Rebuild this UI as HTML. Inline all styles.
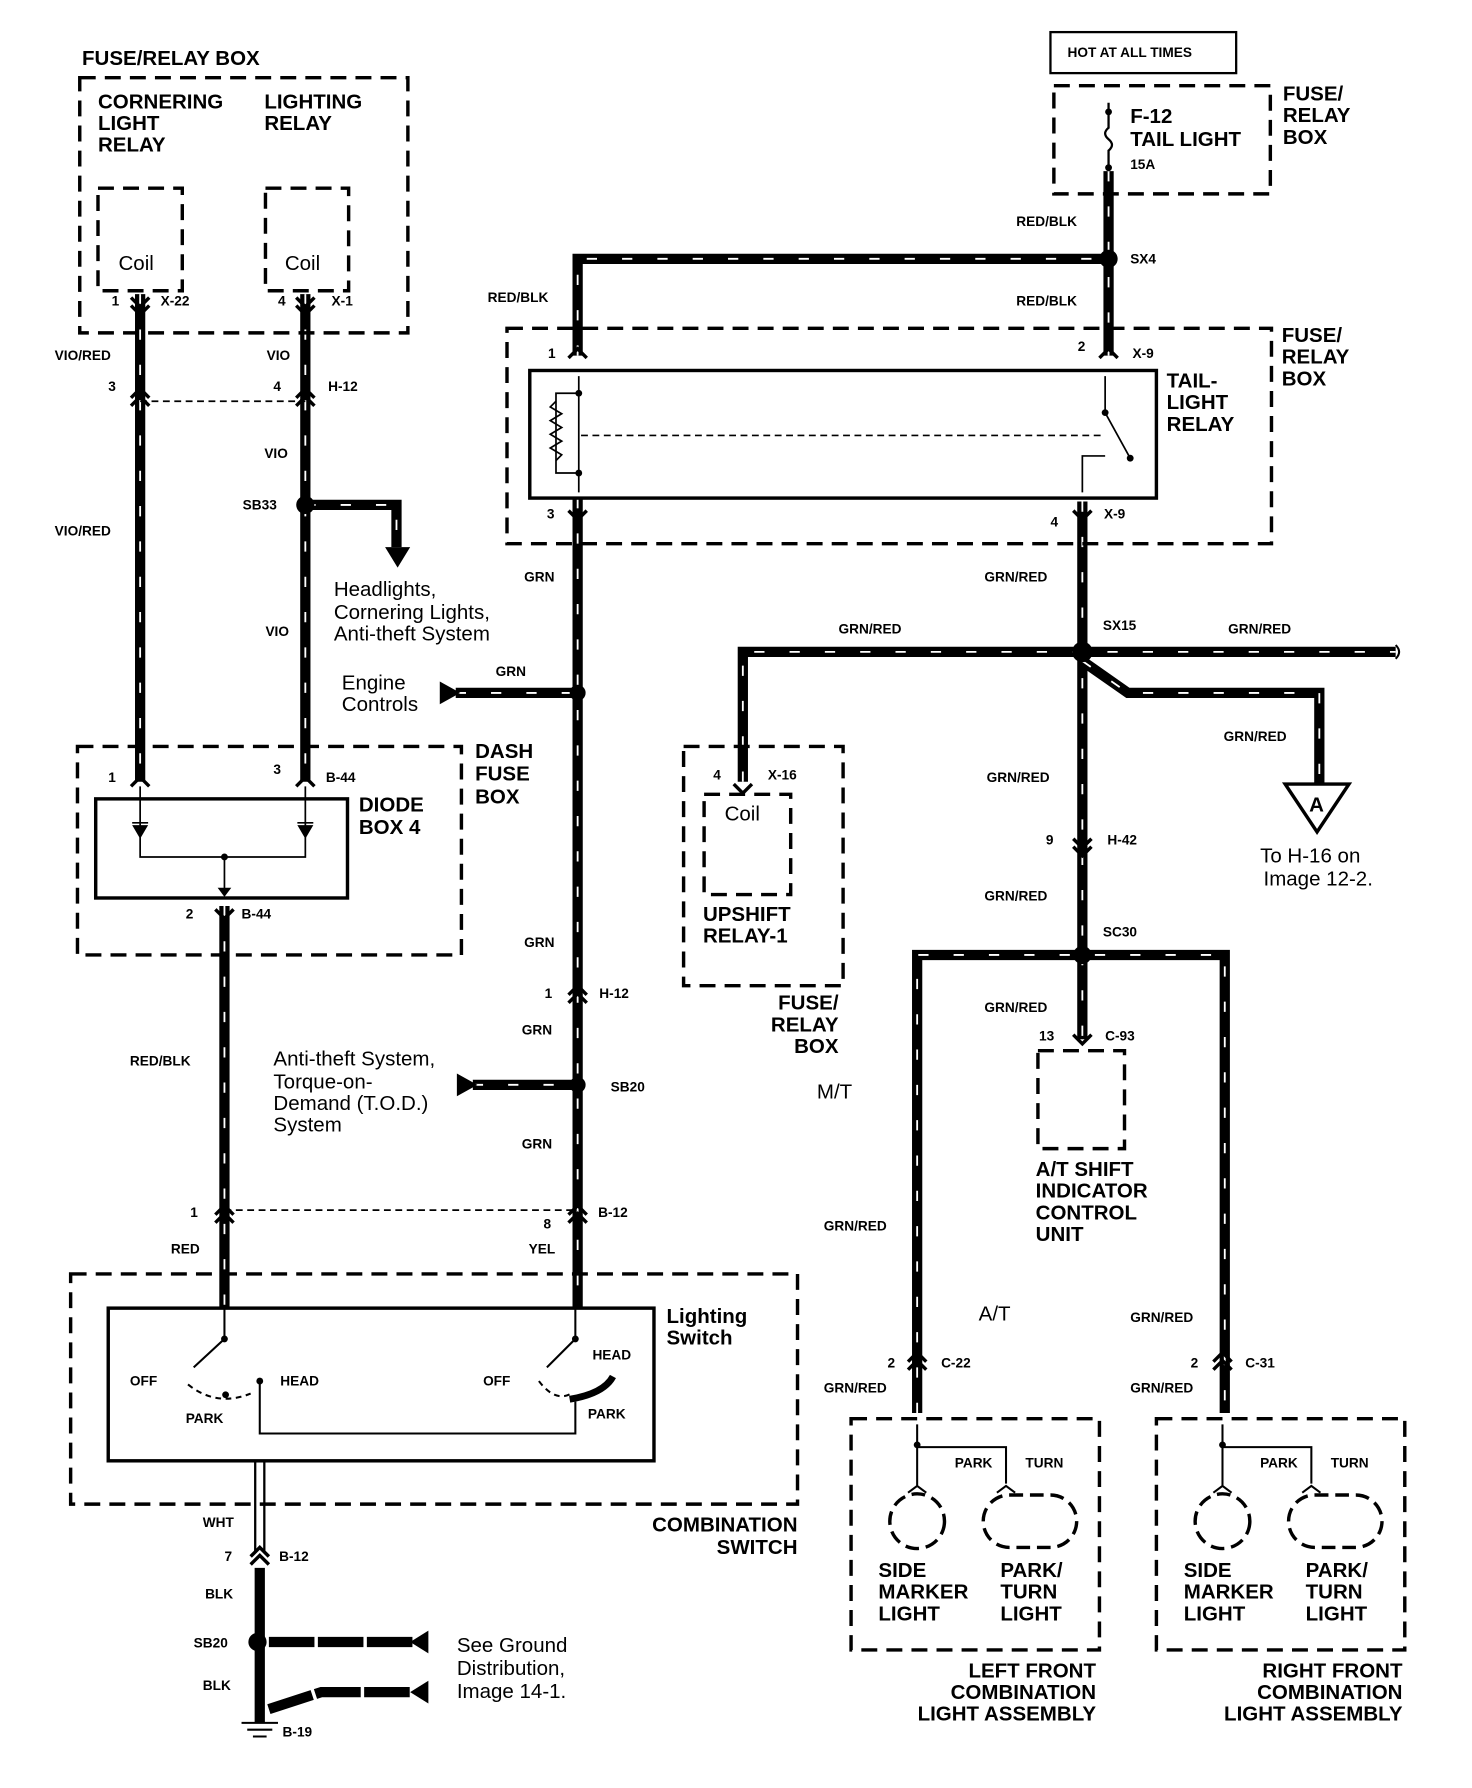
<!DOCTYPE html>
<html><head><meta charset="utf-8"><style>
html,body{margin:0;padding:0;background:#fff}
svg{display:block}
text{font-family:"Liberation Sans",Arial,sans-serif;fill:#000}
.t{font-size:18px;font-weight:bold}
.s{font-size:12px;font-weight:bold}
.n{font-size:18px}
.m{font-size:14px}
</style></head><body>
<svg width="1472" height="1788" viewBox="0 0 1292 1569" xmlns="http://www.w3.org/2000/svg">
<defs>
<g id="W" fill="none">
<path d="M123 258V686"/>
<path d="M268 258V686"/>
<path d="M268 443H348V480"/>
<path d="M197 795V1148"/>
<path d="M507 437V1148"/>
<path d="M507 312V227H973"/>
<path d="M973 150V312"/>
<path d="M950 440V838"/>
<path d="M652 686V572H1225"/>
<path d="M950 580L990 608H1158V688"/>
<path d="M805 1240V838H1075V1240"/>
<path d="M950 838V912"/>
<path d="M400 608H507"/>
<path d="M415 952H507"/>
</g>
</defs>
<use href="#W" stroke="#000" stroke-width="9"/>
<use href="#W" stroke="#fff" stroke-width="1.6" stroke-dasharray="9 22"/>
<path d="M236 1441H362M236 1500L282 1485H362" fill="none" stroke="#000" stroke-width="9" stroke-dasharray="40 3"/>

<g fill="none" stroke="#000" stroke-width="3" stroke-dasharray="14 8">
<rect x="70" y="68" width="288" height="224"/>
<rect x="86" y="165" width="74" height="90"/>
<rect x="233" y="165" width="73" height="90"/>
<rect x="68" y="655" width="337" height="183"/>
<rect x="445" y="288" width="671" height="189"/>
<rect x="925" y="75" width="190" height="95"/>
<rect x="600" y="655" width="140" height="210"/>
<rect x="618" y="697" width="76" height="88"/>
<rect x="911" y="922" width="76" height="86"/>
<rect x="62" y="1118" width="638" height="202"/>
<rect x="747" y="1245" width="218" height="203"/>
<rect x="1015" y="1245" width="218" height="203"/>
</g>
<g fill="none" stroke="#000" stroke-width="3">
<rect x="922" y="28" width="163" height="36" stroke-width="2"/>
<rect x="84" y="701" width="221" height="87"/>
<rect x="465" y="325" width="550" height="112"/>
<rect x="95" y="1148" width="479" height="134"/>
</g>
<g stroke="#000" stroke-width="1.5" stroke-dasharray="6 4" fill="none">
<path d="M123 352H268"/><path d="M197 1062H505"/><path d="M510 382H970"/>
</g>
<!-- connectors -->
<g fill="none" stroke="#000" stroke-width="3">
<path d="M115 261l8 8l8-8M115 268l8 8l8-8"/><path d="M260 261l8 8l8-8M260 268l8 8l8-8"/>
<path d="M115 349l8-8l8 8M115 356l8-8l8 8"/><path d="M260 349l8-8l8 8M260 356l8-8l8 8"/>
<path d="M115 690l8-8l8 8"/><path d="M260 690l8-8l8 8"/>
<path d="M189 798l8 8l8-8"/>
<path d="M189 1066l8-8l8 8M189 1073l8-8l8 8"/><path d="M499 1066l8-8l8 8M499 1073l8-8l8 8"/>
<path d="M499 873l8-8l8 8M499 880l8-8l8 8"/>
<path d="M220 1366l8-8l8 8M220 1373l8-8l8 8"/>
<path d="M499 314l8-8l8 8"/><path d="M965 314l8-8l8 8"/>
<path d="M499 448l8 8l8-8"/><path d="M942 448l8 8l8-8"/>
<path d="M644 688l8 8l8-8"/>
<path d="M942 736l8 8l8-8M942 743l8 8l8-8"/>
<path d="M942 908l8 8l8-8"/>
<path d="M797 1195l8-8l8 8M797 1202l8-8l8 8"/><path d="M1065 1195l8-8l8 8M1065 1202l8-8l8 8"/>
</g>
<!-- dots -->
<g fill="#000">
<circle cx="268" cy="443" r="8"/><circle cx="507" cy="608" r="7"/><circle cx="507" cy="952" r="7"/>
<circle cx="973" cy="227" r="8"/><circle cx="950" cy="572" r="9"/><circle cx="950" cy="838" r="8"/>
<circle cx="226" cy="1441" r="8"/>
<path d="M338 480h22l-11 18z"/>
<path d="M386 598l18 10l-18 10z"/><path d="M401 942l18 10l-18 10z"/>
<path d="M360 1441l16-10v20z"/><path d="M360 1485l16-10v20z"/>
<circle cx="973" cy="98" r="3"/><circle cx="973" cy="147" r="3"/>
</g>
<!-- triangle A -->
<path d="M1128 688H1184L1156 730Z" fill="#fff" stroke="#000" stroke-width="3"/>
<text x="1149" y="712" class="t" font-size="16">A</text>
<!-- fuse -->
<path d="M973 90V112q-6 5 0 10q6 5 0 10V150" fill="none" stroke="#000" stroke-width="2"/>
<!-- diode box internals -->
<g fill="none" stroke="#000" stroke-width="1.5">
<path d="M123 690V752H268V690M197 752V785"/>
<path d="M116 722h14M261 722h14"/>
</g>
<g fill="#000"><path d="M116 724l7 12l7-12zM261 724l7 12l7-12z"/><circle cx="197" cy="752" r="3"/><path d="M191 779l6 8l6-8z"/></g>
<!-- relay internals -->
<g fill="none" stroke="#000" stroke-width="1.5">
<path d="M508 330V432M508 345H488V415H508"/>
<path d="M488 352l-5 5l10 6l-10 6l10 6l-10 6l10 6l-10 6l10 6l-5 5"/>
<path d="M970 330V362L992 402M950 432V400H970" />
</g>
<circle cx="508" cy="345" r="3"/><circle cx="508" cy="415" r="3"/><circle cx="970" cy="362" r="3"/><circle cx="992" cy="402" r="3"/>
<!-- lighting switch internals -->
<g fill="none" stroke="#000" stroke-width="1.8">
<path d="M197 1148V1175L170 1200"/>
<path d="M505 1148V1175L480 1200"/>
<path d="M228 1212V1258H505V1230"/>
<path d="M165 1215q25 20 55 8" stroke-dasharray="5 4"/>
<path d="M473 1212q15 20 30 10" stroke-dasharray="5 4"/>
<path d="M500 1228q30-5 38-20" stroke-width="6"/>
<path d="M224 1282V1362M232 1282V1362" stroke-width="2"/>
<path d="M228 1376V1512" stroke-width="9"/>
<path d="M212 1512h32M217 1518h22M222 1524h12"/>
<path d="M1225 566q6 6 0 12"/>
</g>
<circle cx="197" cy="1175" r="3"/><circle cx="505" cy="1175" r="3"/><circle cx="228" cy="1212" r="3"/><circle cx="198" cy="1224" r="3"/>
<!-- light assembly internals -->
<g fill="none" stroke="#000" stroke-width="1.8">
<path d="M805 1250V1305M805 1270H883V1302M797 1310l8-6l8 6M875 1310l8-6l8 6"/>
<circle cx="805" cy="1335" r="24" stroke-width="3" stroke-dasharray="12 6"/>
<rect x="863" y="1312" width="82" height="46" rx="23" stroke-width="3" stroke-dasharray="12 6"/>
<path d="M1073 1250V1305M1073 1270H1151V1302M1065 1310l8-6l8 6M1143 1310l8-6l8 6"/>
<circle cx="1073" cy="1335" r="24" stroke-width="3" stroke-dasharray="12 6"/>
<rect x="1131" y="1312" width="82" height="46" rx="23" stroke-width="3" stroke-dasharray="12 6"/>
</g>
<circle cx="805" cy="1268" r="3"/><circle cx="1073" cy="1268" r="3"/>

<!-- texts -->
<text x="72" y="57" class="t">FUSE/RELAY BOX</text>
<text class="t"><tspan x="86" y="95">CORNERING</tspan><tspan x="86" y="114">LIGHT</tspan><tspan x="86" y="133">RELAY</tspan></text>
<text class="t"><tspan x="232" y="95">LIGHTING</tspan><tspan x="232" y="114">RELAY</tspan></text>
<text x="104" y="237" class="n">Coil</text><text x="250" y="237" class="n">Coil</text>
<g class="s">
<text x="98" y="268" class="s">1</text><text x="141" y="268" class="s">X-22</text>
<text x="244" y="268" class="s">4</text><text x="291" y="268" class="s">X-1</text>
<text x="48" y="316" class="s">VIO/RED</text><text x="234" y="316" class="s">VIO</text>
<text x="95" y="343" class="s">3</text><text x="240" y="343" class="s">4</text><text x="288" y="343" class="s">H-12</text>
<text x="232" y="402" class="s">VIO</text><text x="213" y="447" class="s">SB33</text>
<text x="48" y="470" class="s">VIO/RED</text><text x="233" y="558" class="s">VIO</text>
<text x="95" y="686" class="s">1</text><text x="240" y="679" class="s">3</text><text x="286" y="686" class="s">B-44</text>
<text x="163" y="806" class="s">2</text><text x="212" y="806" class="s">B-44</text>
<text x="114" y="935" class="s">RED/BLK</text><text x="167" y="1068" class="s">1</text><text x="150" y="1100" class="s">RED</text>
<text x="428" y="265" class="s">RED/BLK</text><text x="892" y="198" class="s">RED/BLK</text><text x="992" y="231" class="s">SX4</text>
<text x="892" y="268" class="s">RED/BLK</text>
<text x="481" y="314" class="s">1</text><text x="946" y="308" class="s">2</text><text x="994" y="314" class="s">X-9</text>
<text x="480" y="455" class="s">3</text><text x="922" y="462" class="s">4</text><text x="969" y="455" class="s">X-9</text>
<text x="460" y="510" class="s">GRN</text><text x="435" y="593" class="s">GRN</text><text x="460" y="831" class="s">GRN</text>
<text x="478" y="876" class="s">1</text><text x="526" y="876" class="s">H-12</text><text x="458" y="908" class="s">GRN</text>
<text x="536" y="958" class="s">SB20</text><text x="458" y="1008" class="s">GRN</text>
<text x="477" y="1078" class="s">8</text><text x="525" y="1068" class="s">B-12</text><text x="464" y="1100" class="s">YEL</text>
<text x="114" y="1216" class="s" font-weight="normal">OFF</text><text x="163" y="1249" class="s" font-weight="normal">PARK</text><text x="246" y="1216" class="s" font-weight="normal">HEAD</text>
<text x="424" y="1216" class="s" font-weight="normal">OFF</text><text x="520" y="1193" class="s" font-weight="normal">HEAD</text><text x="516" y="1245" class="s" font-weight="normal">PARK</text>
<text x="178" y="1340" class="s">WHT</text><text x="197" y="1370" class="s">7</text><text x="245" y="1370" class="s">B-12</text>
<text x="180" y="1403" class="s">BLK</text><text x="170" y="1446" class="s">SB20</text><text x="178" y="1483" class="s">BLK</text><text x="248" y="1524" class="s">B-19</text>
<text x="937" y="50" class="s">HOT AT ALL TIMES</text><text x="992" y="148" class="s">15A</text>
<text x="864" y="510" class="s">GRN/RED</text><text x="968" y="553" class="s">SX15</text>
<text x="736" y="556" class="s">GRN/RED</text><text x="1078" y="556" class="s">GRN/RED</text>
<text x="1074" y="650" class="s">GRN/RED</text><text x="866" y="686" class="s">GRN/RED</text>
<text x="626" y="684" class="s">4</text><text x="674" y="684" class="s">X-16</text>
<text x="918" y="741" class="s">9</text><text x="972" y="741" class="s">H-42</text>
<text x="864" y="790" class="s">GRN/RED</text><text x="968" y="822" class="s">SC30</text>
<text x="864" y="888" class="s">GRN/RED</text><text x="912" y="913" class="s">13</text><text x="970" y="913" class="s">C-93</text>
<text x="723" y="1080" class="s">GRN/RED</text><text x="992" y="1160" class="s">GRN/RED</text>
<text x="779" y="1200" class="s">2</text><text x="826" y="1200" class="s">C-22</text>
<text x="1045" y="1200" class="s">2</text><text x="1093" y="1200" class="s">C-31</text>
<text x="723" y="1222" class="s">GRN/RED</text><text x="992" y="1222" class="s">GRN/RED</text>
<text x="838" y="1288" class="s" font-weight="normal">PARK</text><text x="900" y="1288" class="s" font-weight="normal">TURN</text>
<text x="1106" y="1288" class="s" font-weight="normal">PARK</text><text x="1168" y="1288" class="s" font-weight="normal">TURN</text>
</g>
<text class="n"><tspan x="293" y="523">Headlights,</tspan><tspan x="293" y="543">Cornering Lights,</tspan><tspan x="293" y="562">Anti-theft System</tspan></text>
<text class="n"><tspan x="300" y="605">Engine</tspan><tspan x="300" y="624">Controls</tspan></text>
<text class="n"><tspan x="240" y="935">Anti-theft System,</tspan><tspan x="240" y="955">Torque-on-</tspan><tspan x="240" y="974">Demand (T.O.D.)</tspan><tspan x="240" y="993">System</tspan></text>
<text class="n"><tspan x="401" y="1450">See Ground</tspan><tspan x="401" y="1470">Distribution,</tspan><tspan x="401" y="1490">Image 14-1.</tspan></text>
<text class="n"><tspan x="1106" y="757">To H-16 on</tspan><tspan x="1109" y="777">Image 12-2.</tspan></text>
<text class="n" x="717" y="964">M/T</text><text class="n" x="859" y="1159">A/T</text>
<text class="t"><tspan x="417" y="665">DASH</tspan><tspan x="417" y="685">FUSE</tspan><tspan x="417" y="705">BOX</tspan></text>
<text class="t"><tspan x="315" y="712">DIODE</tspan><tspan x="315" y="732">BOX 4</tspan></text>
<text class="t"><tspan x="1024" y="340">TAIL-</tspan><tspan x="1024" y="359">LIGHT</tspan><tspan x="1024" y="378">RELAY</tspan></text>
<text class="t"><tspan x="1125" y="300">FUSE/</tspan><tspan x="1125" y="319">RELAY</tspan><tspan x="1125" y="338">BOX</tspan></text>
<text class="t"><tspan x="1126" y="88">FUSE/</tspan><tspan x="1126" y="107">RELAY</tspan><tspan x="1126" y="126">BOX</tspan></text>
<text class="t"><tspan x="992" y="108">F-12</tspan><tspan x="992" y="128">TAIL LIGHT</tspan></text>
<text class="t"><tspan x="617" y="808">UPSHIFT</tspan><tspan x="617" y="827">RELAY-1</tspan></text>
<text class="n" x="636" y="720">Coil</text>
<text class="t" text-anchor="end"><tspan x="736" y="886">FUSE/</tspan><tspan x="736" y="905">RELAY</tspan><tspan x="736" y="924">BOX</tspan></text>
<text class="t"><tspan x="909" y="1032">A/T SHIFT</tspan><tspan x="909" y="1051">INDICATOR</tspan><tspan x="909" y="1070">CONTROL</tspan><tspan x="909" y="1089">UNIT</tspan></text>
<text class="n" font-weight="bold"><tspan x="585" y="1161">Lighting</tspan><tspan x="585" y="1180">Switch</tspan></text>
<text class="t" text-anchor="end"><tspan x="700" y="1344">COMBINATION</tspan><tspan x="700" y="1364">SWITCH</tspan></text>
<text class="t"><tspan x="771" y="1384">SIDE</tspan><tspan x="771" y="1403">MARKER</tspan><tspan x="771" y="1422">LIGHT</tspan></text>
<text class="t"><tspan x="878" y="1384">PARK/</tspan><tspan x="878" y="1403">TURN</tspan><tspan x="878" y="1422">LIGHT</tspan></text>
<text class="t"><tspan x="1039" y="1384">SIDE</tspan><tspan x="1039" y="1403">MARKER</tspan><tspan x="1039" y="1422">LIGHT</tspan></text>
<text class="t"><tspan x="1146" y="1384">PARK/</tspan><tspan x="1146" y="1403">TURN</tspan><tspan x="1146" y="1422">LIGHT</tspan></text>
<text class="t" text-anchor="end"><tspan x="962" y="1472">LEFT FRONT</tspan><tspan x="962" y="1491">COMBINATION</tspan><tspan x="962" y="1510">LIGHT ASSEMBLY</tspan></text>
<text class="t" text-anchor="end"><tspan x="1231" y="1472">RIGHT FRONT</tspan><tspan x="1231" y="1491">COMBINATION</tspan><tspan x="1231" y="1510">LIGHT ASSEMBLY</tspan></text>
</svg>
</body></html>
